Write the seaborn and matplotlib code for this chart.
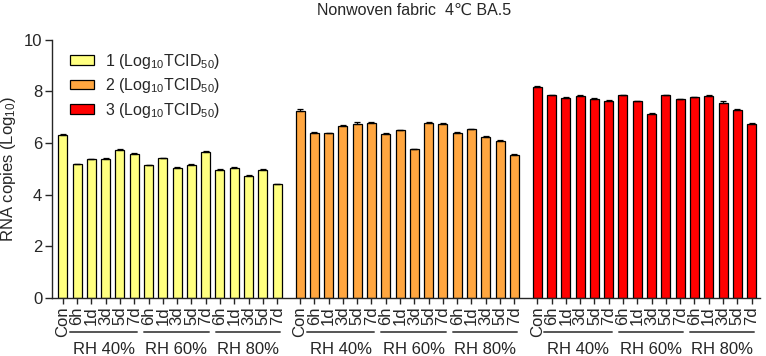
import numpy as np
import pandas as pd
import matplotlib
matplotlib.use("Agg")
import matplotlib.pyplot as plt
import seaborn as sns

# --- data ---
times = ["Con", "6h", "1d", "3d", "5d", "7d",
         "6h", "1d", "3d", "5d", "7d",
         "6h", "1d", "3d", "5d", "7d"]
rh_labels = ["RH 40%", "RH 60%", "RH 80%"]
groups = ["1 (Log$_{10}$TCID$_{50}$)", "2 (Log$_{10}$TCID$_{50}$)", "3 (Log$_{10}$TCID$_{50}$)"]

vals_1 = [6.32, 5.18, 5.37, 5.40, 5.75, 5.58,
          5.14, 5.41, 5.05, 5.17, 5.65,
          4.96, 5.05, 4.72, 4.96, 4.41]
vals_2 = [7.26, 6.41, 6.38, 6.66, 6.74, 6.78,
          6.37, 6.50, 5.76, 6.78, 6.74,
          6.40, 6.54, 6.24, 6.07, 5.55]
vals_3 = [8.17, 7.86, 7.76, 7.84, 7.71, 7.65,
          7.86, 7.62, 7.13, 7.85, 7.69,
          7.77, 7.82, 7.56, 7.28, 6.75]

sd_1 = [0.03, 0.02, 0.02, 0.02, 0.03, 0.03,
        0.02, 0.03, 0.02, 0.04, 0.03,
        0.02, 0.03, 0.03, 0.03, 0.02]
sd_2 = [0.06, 0.02, 0.02, 0.03, 0.09, 0.03,
        0.02, 0.02, 0.02, 0.03, 0.03,
        0.02, 0.02, 0.03, 0.04, 0.02]
sd_3 = [0.03, 0.02, 0.03, 0.02, 0.03, 0.02,
        0.02, 0.02, 0.04, 0.03, 0.02,
        0.03, 0.05, 0.07, 0.03, 0.03]

colors = ["#FFFF80", "#FFA640", "#FF0000"]

# --- layout ---
GAP = 1.6  # extra space between the three groups (bar units)
n = len(times)
group_step = n - 1 + GAP

rows = []
for g, (name, vals) in enumerate(zip(groups, [vals_1, vals_2, vals_3])):
    for i, v in enumerate(vals):
        rows.append({"pos": g * group_step + i, "value": v, "group": name})
df = pd.DataFrame(rows)

sns.set_style("ticks")
plt.rcParams["font.family"] = ["Liberation Sans", "DejaVu Sans"]
plt.rcParams["mathtext.fontset"] = "custom"
plt.rcParams["mathtext.rm"] = "Liberation Sans"
plt.rcParams["mathtext.it"] = "Liberation Sans:italic"

fig = plt.figure(figsize=(7.66, 3.56), dpi=100)
ax = fig.add_axes([0.068, 0.163, 0.924, 0.725])

sns.barplot(data=df, x="pos", y="value", hue="group", native_scale=True,
            dodge=False, width=0.63, palette=colors, saturation=1,
            edgecolor="black", linewidth=0.9, errorbar=None, ax=ax)

for g, sd in enumerate([sd_1, sd_2, sd_3]):
    sub = df[df["group"] == groups[g]]
    ax.errorbar(sub["pos"], sub["value"], yerr=[np.zeros(n), sd],
                fmt="none", ecolor="black", elinewidth=0.9, capsize=2.2,
                capthick=0.9)

ax.set_ylim(0, 10)
ax.set_yticks([0, 2, 4, 6, 8, 10])
ax.set_xlim(-0.75, 2 * group_step + n - 1 + 0.58)
ax.set_xticks(df["pos"])
ax.set_xticklabels(times * 3, rotation=90, fontsize=12)
ax.tick_params(axis="y", labelsize=12, length=5, width=1, pad=2)
ax.tick_params(axis="x", length=4, width=1, pad=2)
ax.set_xlabel("")
ax.set_ylabel("RNA copies (Log$_{10}$)", fontsize=12, labelpad=4)
sns.despine(ax=ax)
for s in ["left", "bottom"]:
    ax.spines[s].set_linewidth(1)

# RH bracket lines and labels
trans = ax.get_xaxis_transform()
spans = [(0.5, 5.2), (5.7, 10.2), (10.7, 15.2)]
for g in range(3):
    off = g * group_step
    for (a, b), lab in zip(spans, rh_labels):
        ax.plot([off + a, off + b], [-0.131, -0.131], color="#555555",
                lw=1.4, transform=trans, clip_on=False)
        ax.text(off + (a + b) / 2, -0.198, lab, transform=trans,
                ha="center", va="center", fontsize=12)

leg = ax.legend(loc="upper left", bbox_to_anchor=(0.005, 1.01), frameon=False,
                fontsize=11.5, handlelength=1.5, handleheight=0.55,
                handletextpad=0.7, labelspacing=0.35)

fig.text(0.54, 0.972, "Nonwoven fabric  4℃ BA.5", ha="center", va="center",
         fontsize=11.5)

fig.savefig("out.png", dpi=100)
